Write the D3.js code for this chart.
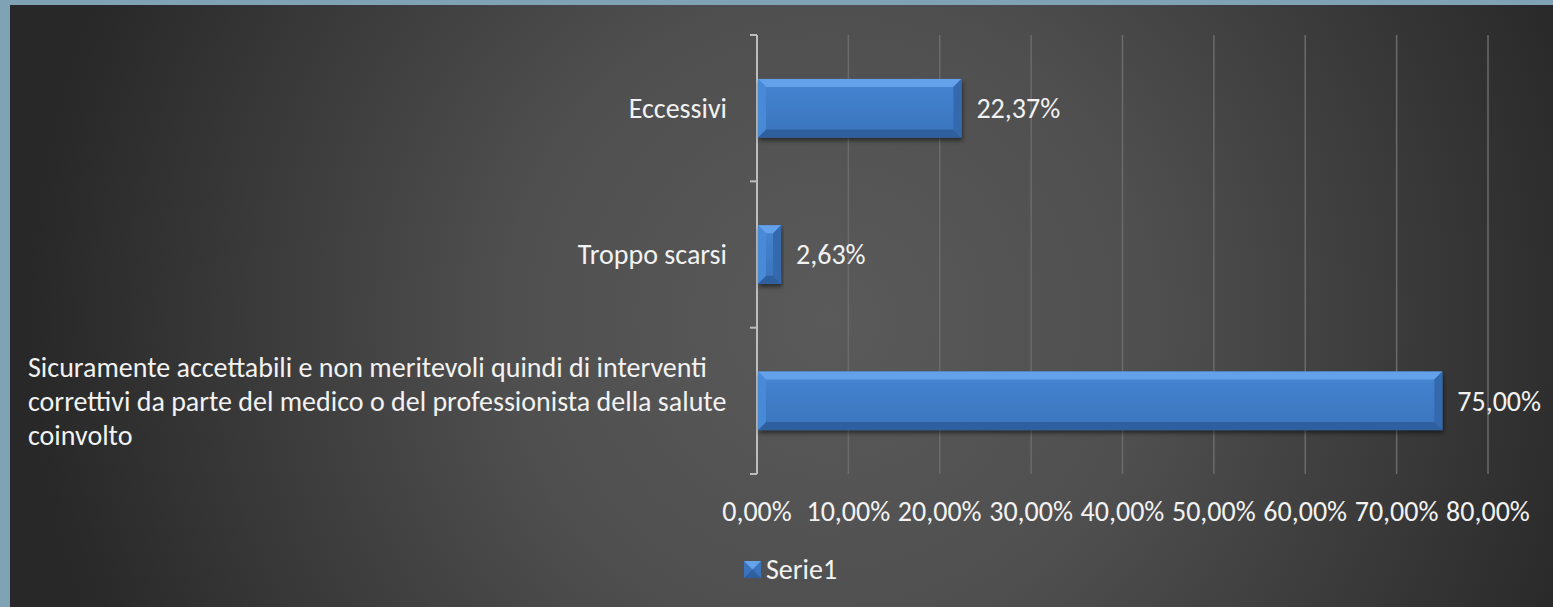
<!DOCTYPE html>
<html>
<head>
<meta charset="utf-8">
<script src="https://cdnjs.cloudflare.com/ajax/libs/d3/7.8.5/d3.min.js"></script>
<style>
  html, body { margin: 0; padding: 0; background: #7fa3b5; }
  svg { display: block; }
</style>
</head>
<body>
<svg id="chart"></svg>
<script>
// [A] Dati -----------------------------------------------------------------
const categorie = [
  "Eccessivi",
  "Troppo scarsi",
  "Sicuramente accettabili e non meritevoli quindi di interventi correttivi da parte del medico o del professionista della salute coinvolto"
];
const righeEtichette = [
  ["Eccessivi"],
  ["Troppo scarsi"],
  ["Sicuramente accettabili e non meritevoli quindi di interventi",
   "correttivi da parte del medico o del professionista della salute",
   "coinvolto"]
];
const valori = [22.37, 2.63, 75.00];
const tickValori = [0, 10, 20, 30, 40, 50, 60, 70, 80];
const nomeSerie = "Serie1";

// [B] Configurazione --------------------------------------------------------
const width = 1553;
const height = 607;
const font = "'Liberation Sans Narrow', Carlito, Lato, sans-serif";
const fsize = 28;
const fmt = v => d3.format(".2f")(v).replace(".", ",") + "%";

const svg = d3.select("#chart")
  .attr("width", width)
  .attr("height", height);

const defs = svg.append("defs");

// sfondo con gradiente radiale
const bg = defs.append("radialGradient")
  .attr("id", "bg")
  .attr("gradientUnits", "userSpaceOnUse")
  .attr("cx", 830).attr("cy", 320).attr("r", 800);
bg.append("stop").attr("offset", "0%").attr("stop-color", "#5a5a5a");
bg.append("stop").attr("offset", "40%").attr("stop-color", "#4f4f4f");
bg.append("stop").attr("offset", "100%").attr("stop-color", "#282828");

const barGrad = defs.append("linearGradient")
  .attr("id", "barGrad").attr("x1", 0).attr("y1", 0).attr("x2", 0).attr("y2", 1);
barGrad.append("stop").attr("offset", "0%").attr("stop-color", "#4685d2");
barGrad.append("stop").attr("offset", "100%").attr("stop-color", "#3a74bd");

const shadow = defs.append("filter").attr("id", "shadow")
  .attr("x", "-5%").attr("y", "-20%").attr("width", "115%").attr("height", "150%");
shadow.append("feDropShadow")
  .attr("dx", 1).attr("dy", 3).attr("stdDeviation", 2)
  .attr("flood-color", "#000").attr("flood-opacity", 0.5);

svg.append("rect")
  .attr("x", 10).attr("y", 5)
  .attr("width", width - 10).attr("height", height - 5)
  .attr("fill", "url(#bg)");

// [C] Scale -----------------------------------------------------------------
const x = d3.scaleLinear().domain([0, 80]).range([757, 1488]);
const y = d3.scaleBand().domain(categorie).range([35, 474]).paddingInner(0.6).paddingOuter(0.3);

// griglia
svg.selectAll(".grid")
  .data(tickValori.slice(1))
  .join("line")
  .attr("class", "grid")
  .attr("x1", d => x(d)).attr("x2", d => x(d))
  .attr("y1", 35).attr("y2", 474)
  .attr("stroke", "#6b6b6b")
  .attr("stroke-width", 1.5);

// asse verticale con tacche
const yAxisG = svg.append("g");
yAxisG.append("line")
  .attr("x1", x(0)).attr("x2", x(0))
  .attr("y1", 35).attr("y2", 474)
  .attr("stroke", "#bdbdbd").attr("stroke-width", 2);
const bordi = [35].concat(categorie.map(c => y(c) + y.bandwidth() + (y.step() - y.bandwidth()) / 2));
yAxisG.selectAll(".tick")
  .data(bordi)
  .join("line")
  .attr("x1", x(0) - 7).attr("x2", x(0))
  .attr("y1", d => d).attr("y2", d => d)
  .attr("stroke", "#bdbdbd").attr("stroke-width", 2);

// [D] Barre con effetto smussato ------------------------------------------
const bev = 8;
const bars = svg.selectAll(".bar")
  .data(valori)
  .join("g")
  .attr("class", "bar")
  .attr("filter", "url(#shadow)");

bars.each(function(v, i) {
  const g = d3.select(this);
  const x0 = x(0) + 1, x1 = x(v);
  const y0 = y(categorie[i]), y1 = y0 + y.bandwidth();
  const b = Math.min(bev, (x1 - x0) / 2);
  g.append("rect")
    .attr("x", x0).attr("y", y0)
    .attr("width", x1 - x0).attr("height", y1 - y0)
    .attr("fill", "url(#barGrad)");
  // bordo superiore chiaro
  g.append("polygon")
    .attr("points", [[x0, y0], [x1, y0], [x1 - b, y0 + b], [x0 + b, y0 + b]].join(" "))
    .attr("fill", "#64a2ea");
  // bordo inferiore scuro
  g.append("polygon")
    .attr("points", [[x0, y1], [x1, y1], [x1 - b, y1 - b], [x0 + b, y1 - b]].join(" "))
    .attr("fill", "#2f5f9f");
  // lati
  g.append("polygon")
    .attr("points", [[x0, y0], [x0 + b, y0 + b], [x0 + b, y1 - b], [x0, y1]].join(" "))
    .attr("fill", "#4a8ad6");
  g.append("polygon")
    .attr("points", [[x1, y0], [x1 - b, y0 + b], [x1 - b, y1 - b], [x1, y1]].join(" "))
    .attr("fill", "#3569ad");
});

// etichette dei valori
svg.selectAll(".val")
  .data(valori)
  .join("text")
  .attr("class", "val")
  .attr("x", d => x(d) + 15)
  .attr("y", (d, i) => y(categorie[i]) + y.bandwidth() / 2)
  .attr("dy", "0.35em")
  .attr("fill", "#f2f2f2")
  .attr("font-family", font)
  .attr("font-size", fsize)
  .text(d => fmt(d));

// [E] Etichette categorie --------------------------------------------------
righeEtichette.forEach((righe, i) => {
  const cy = y(categorie[i]) + y.bandwidth() / 2;
  const lh = 34;
  const multi = righe.length > 1;
  const t = svg.append("text")
    .attr("fill", "#f2f2f2")
    .attr("font-family", font)
    .attr("font-size", fsize)
    .attr("text-anchor", multi ? "start" : "end");
  righe.forEach((r, k) => {
    t.append("tspan")
      .attr("x", multi ? 28 : 727)
      .attr("y", cy + (k - (righe.length - 1) / 2) * lh)
      .attr("dy", "0.35em")
      .text(r);
  });
});

// [F] Asse X ---------------------------------------------------------------
svg.selectAll(".xt")
  .data(tickValori)
  .join("text")
  .attr("class", "xt")
  .attr("x", d => x(d))
  .attr("y", 511)
  .attr("dy", "0.35em")
  .attr("text-anchor", "middle")
  .attr("fill", "#f2f2f2")
  .attr("font-family", font)
  .attr("font-size", fsize)
  .text(d => fmt(d));

// [G] Legenda --------------------------------------------------------------
const lg = svg.append("g").attr("transform", "translate(744,561)");
lg.append("rect").attr("width", 17).attr("height", 17).attr("fill", "#3a74bd");
lg.append("polygon").attr("points", "0,0 17,0 8.5,8.5").attr("fill", "#64a2ea");
lg.append("polygon").attr("points", "0,17 17,17 8.5,8.5").attr("fill", "#2f5f9f");
lg.append("text")
  .attr("x", 22).attr("y", 8)
  .attr("dy", "0.35em")
  .attr("fill", "#f2f2f2")
  .attr("font-family", font)
  .attr("font-size", fsize)
  .text(nomeSerie);
</script>
</body>
</html>
